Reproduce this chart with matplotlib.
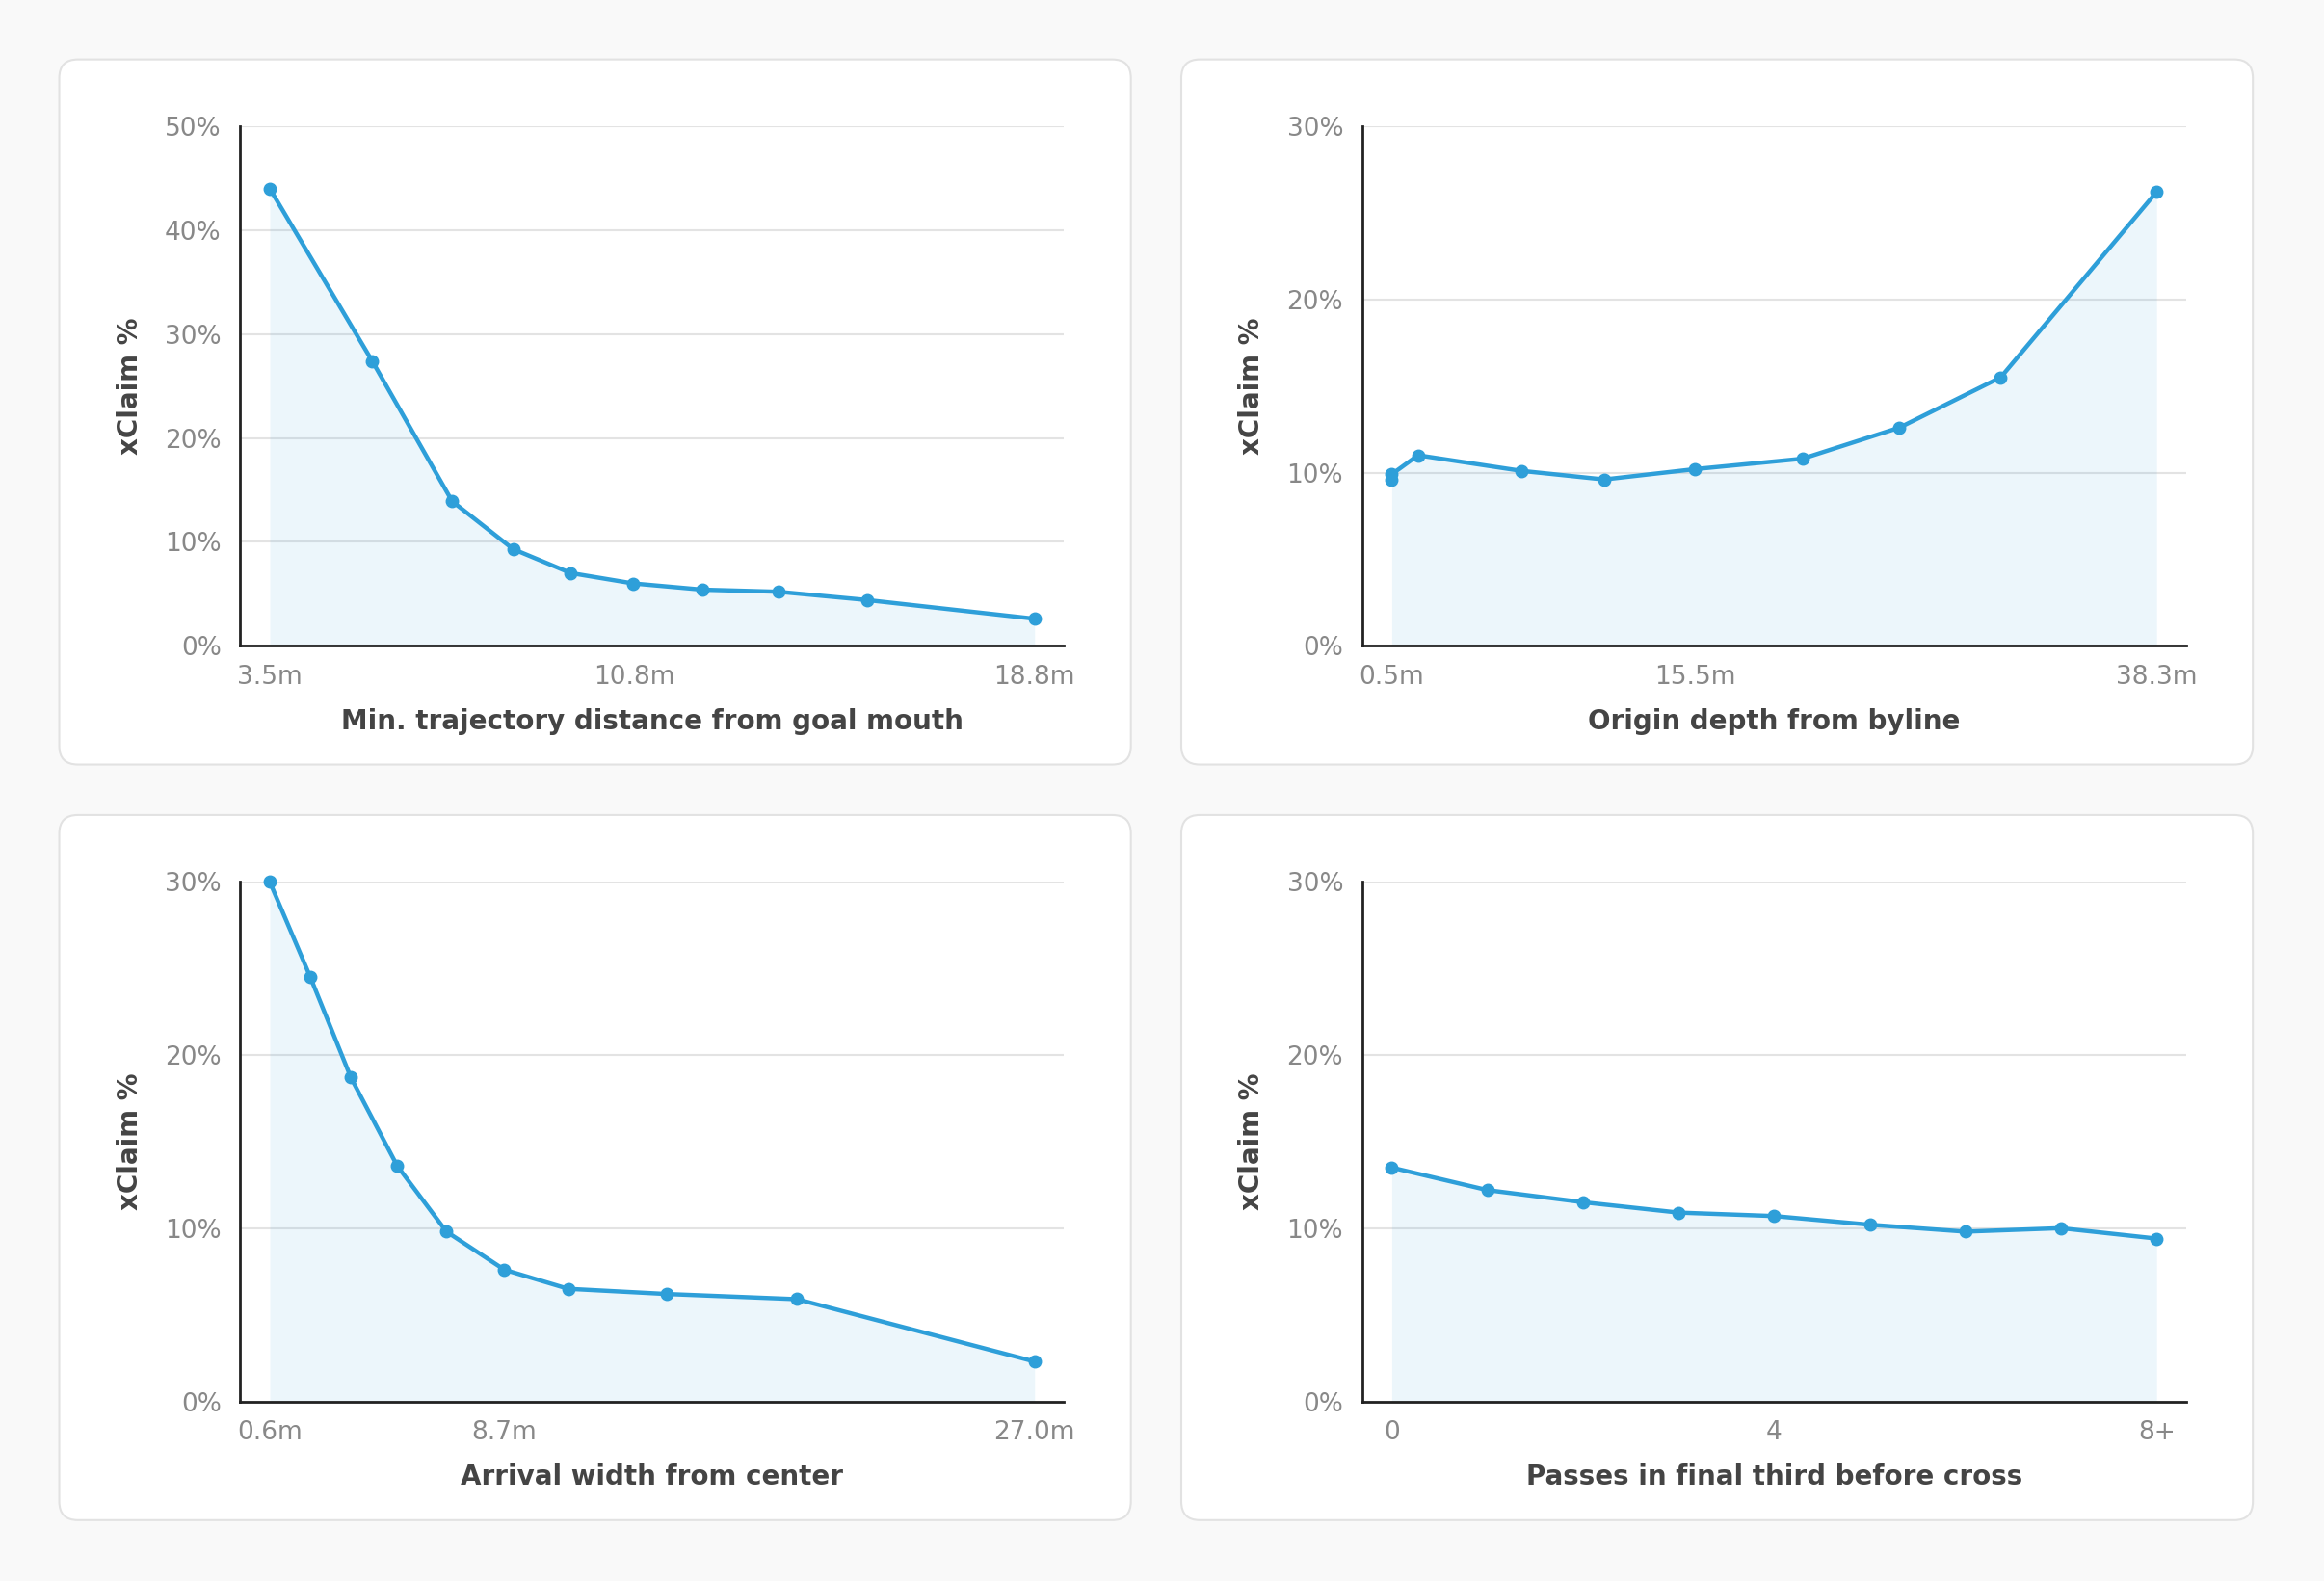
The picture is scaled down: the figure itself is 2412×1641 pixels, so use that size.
import matplotlib
matplotlib.use("Agg")
import matplotlib.pyplot as plt
from matplotlib.patches import FancyBboxPatch
from matplotlib.ticker import FuncFormatter

x1 = [3.5, 5.55, 7.15, 8.37, 9.52, 10.77, 12.16, 13.67, 15.45, 18.8]
y1 = [44.0, 27.4, 13.9, 9.3, 7.0, 6.0, 5.4, 5.2, 4.4, 2.6]
x2 = [0.5, 0.5, 1.8, 6.9, 11.0, 15.5, 20.8, 25.6, 30.6, 38.3]
y2 = [9.6, 9.9, 11.0, 10.1, 9.6, 10.2, 10.8, 12.6, 15.5, 26.2]
x3 = [0.6, 2.0, 3.4, 5.0, 6.7, 8.7, 10.9, 14.3, 18.8, 27.0]
y3 = [30.0, 24.5, 18.7, 13.6, 9.8, 7.6, 6.5, 6.2, 5.9, 2.3]
x4 = [0, 1, 2, 3, 4, 5, 6, 7, 8]
y4 = [13.5, 12.2, 11.5, 10.9, 10.7, 10.2, 9.8, 10.0, 9.4]

panels = [
    (x1, y1, [3.5, 10.8, 18.8], ["3.5m", "10.8m", "18.8m"], 50, [0, 10, 20, 30, 40, 50], "Min. trajectory distance from goal mouth"),
    (x2, y2, [0.5, 15.5, 38.3], ["0.5m", "15.5m", "38.3m"], 30, [0, 10, 20, 30], "Origin depth from byline"),
    (x3, y3, [0.6, 8.7, 27.0], ["0.6m", "8.7m", "27.0m"], 30, [0, 10, 20, 30], "Arrival width from center"),
    (x4, y4, [0, 4, 8], ["0", "4", "8+"], 30, [0, 10, 20, 30], "Passes in final third before cross"),
]

W, H = 1568, 1065
fig = plt.figure(figsize=(24.12, 16.41), dpi=100)
fig.patch.set_facecolor("#f9f9f9")
line_c = "#2e9fd9"

cards = [(40, 40), (797, 40), (40, 549), (797, 549)]
for i, (cx, cy) in enumerate(cards):
    card = FancyBboxPatch((cx / W, 1 - (cy + 475) / H), 723 / W, 475 / H,
                          boxstyle="round,pad=0,rounding_size=0.008",
                          mutation_aspect=W / H,
                          transform=fig.transFigure, facecolor="white",
                          edgecolor="#e2e2e2", linewidth=1.5, zorder=-5)
    fig.patches.append(card)
    xs, ys, ticks, tlabels, ymax, yticks, xlabel = panels[i]
    axl = cx + 122
    axt = cy + 45
    ax = fig.add_axes([axl / W, 1 - (axt + 350) / H, 556 / W, 350 / H])
    ax.set_facecolor("none")
    ax.set_zorder(1)
    xmin, xmax = xs[0], xs[-1]
    pad = (xmax - xmin) * 20 / 516
    ax.set_xlim(xmin - pad, xmax + pad)
    ax.set_ylim(0, ymax)
    ax.fill_between(xs, ys, 0, color=line_c, alpha=0.09, linewidth=0)
    ax.plot(xs, ys, color=line_c, linewidth=3.2, marker="o", markersize=9, zorder=3, clip_on=False)
    ax.set_yticks(yticks)
    ax.yaxis.set_major_formatter(FuncFormatter(lambda v, p: f"{int(v)}%"))
    ax.set_xticks(ticks)
    ax.set_xticklabels(tlabels)
    ax.grid(axis="y", color="#e3e3e3", linewidth=1.5)
    ax.set_axisbelow(True)
    for s in ["top", "right"]:
        ax.spines[s].set_visible(False)
    for s in ["left", "bottom"]:
        ax.spines[s].set_color("#222222")
        ax.spines[s].set_linewidth(2)
    ax.tick_params(length=0, labelsize=19, colors="#888888", pad=14)
    ax.set_xlabel(xlabel, fontsize=20, fontweight="bold", color="#444444", labelpad=14)
    ax.set_ylabel("xClaim %", fontsize=20, fontweight="bold", color="#444444", labelpad=16)

fig.savefig("out.png", dpi=100, facecolor=fig.get_facecolor())
